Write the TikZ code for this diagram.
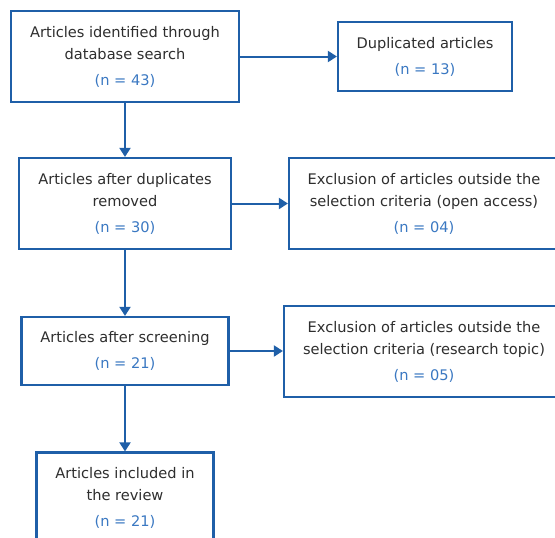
\documentclass[tikz,border=0pt]{standalone}
\usepackage{fontspec}
\setmainfont{DejaVu Sans}
\usetikzlibrary{arrows.meta}
\definecolor{lineblue}{HTML}{1F5FA8}
\definecolor{numblue}{HTML}{3A78C2}
\definecolor{txtgray}{HTML}{2E2E2E}
\newcommand{\nval}[1]{\textcolor{numblue}{(n = #1)}}
\tikzset{
  box/.style={draw=lineblue, line width=2.2pt, fill=white, align=center, text=txtgray, inner sep=0pt,
    font=\fontsize{14.6}{22}\selectfont},
  conn/.style={draw=lineblue, line width=2pt, -{Triangle[length=9pt,width=11pt]}}
}
\begin{document}
\begin{tikzpicture}[x=1pt,y=-1pt]
\useasboundingbox (0,0) rectangle (555,538);
\clip (0,0) rectangle (555,538);
\node[box, minimum width=228, minimum height=91] (b1) at (125,56.5) {Articles identified through\\database search\\[4pt]\nval{43}};
\node[box, minimum width=174, minimum height=69] (b2) at (425,56.5) {Duplicated articles\\[4pt]\nval{13}};
\node[box, minimum width=212, minimum height=91] (b3) at (125,203.5) {Articles after duplicates\\removed\\[4pt]\nval{30}};
\node[box, minimum width=270, minimum height=91] (b4) at (424,203.5) {Exclusion of articles outside the\\selection criteria (open access)\\[4pt]\nval{04}};
\node[box, minimum width=207, minimum height=68] (b5) at (125,351) {Articles after screening\\[4pt]\nval{21}};
\node[box, minimum width=280, minimum height=91] (b6) at (424,351.5) {Exclusion of articles outside the\\selection criteria (research topic)\\[4pt]\nval{05}};
\node[box, minimum width=177, minimum height=91] (b7) at (125,498) {Articles included in\\the review\\[4pt]\nval{21}};
\draw[conn] (b1.south) -- (b3.north);
\draw[conn] (b3.south) -- (b5.north);
\draw[conn] (b5.south) -- (b7.north);
\draw[conn] (b1.east) -- (b2.west);
\draw[conn] (b3.east) -- (b3.east -| b4.west);
\draw[conn] (b5.east) -- (b5.east -| b6.west);
\end{tikzpicture}
\end{document}
